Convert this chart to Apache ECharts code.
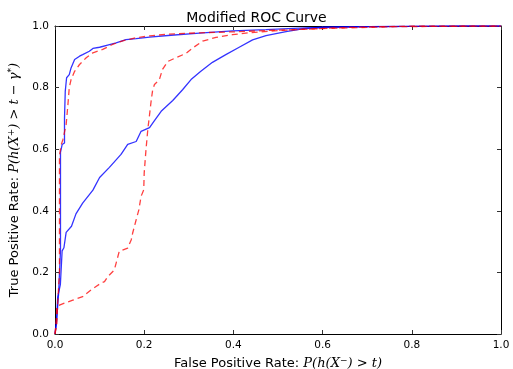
<!DOCTYPE html>
<html><head><meta charset="utf-8">
<script src="https://cdn.jsdelivr.net/npm/echarts@6/dist/echarts.min.js"></script>
<style>html,body{margin:0;padding:0;background:#fff}#c{width:513px;height:369px}</style>
</head><body><div id="c"></div>
<script>
const titleText = 'Modified ROC Curve';
const tickValues = [0, 0.2, 0.4, 0.6, 0.8, 1.0];

const blueAX = [0, 0.004, 0.008, 0.0123, 0.0123, 0.016, 0.0213, 0.0213, 0.023, 0.026, 0.032, 0.036, 0.044, 0.055, 0.062, 0.077, 0.085, 0.1, 0.118, 0.137, 0.159, 0.182, 0.212, 0.26, 0.324, 0.398, 0.473, 0.548, 0.62, 0.7, 0.8, 0.92, 1];
const blueAY = [0, 0.05, 0.13, 0.27, 0.59, 0.615, 0.62, 0.70, 0.788, 0.832, 0.842, 0.864, 0.891, 0.902, 0.907, 0.918, 0.927, 0.931, 0.938, 0.945, 0.956, 0.959, 0.964, 0.97, 0.977, 0.984, 0.988, 0.993, 0.996, 0.998, 0.999, 1, 1];

const redAX = [0, 0.004, 0.006, 0.01, 0.01, 0.014, 0.0175, 0.022, 0.025, 0.029, 0.032, 0.036, 0.044, 0.055, 0.07, 0.085, 0.107, 0.129, 0.152, 0.182, 0.212, 0.25, 0.324, 0.4, 0.47, 0.55, 0.65, 0.8, 1];
const redAY = [0, 0.03, 0.1, 0.2, 0.58, 0.615, 0.63, 0.66, 0.68, 0.745, 0.8, 0.826, 0.853, 0.875, 0.897, 0.913, 0.924, 0.94, 0.952, 0.962, 0.968, 0.973, 0.978, 0.981, 0.985, 0.989, 0.995, 1, 1];

const blueBX = [0, 0.003, 0.006, 0.012, 0.016, 0.02, 0.025, 0.037, 0.047, 0.062, 0.085, 0.1, 0.122, 0.148, 0.163, 0.182, 0.193, 0.212, 0.223, 0.238, 0.264, 0.286, 0.305, 0.327, 0.353, 0.383, 0.413, 0.443, 0.473, 0.518, 0.555, 0.6, 0.7, 0.8, 0.92, 1];
const blueBY = [0, 0.03, 0.12, 0.16, 0.27, 0.28, 0.33, 0.35, 0.39, 0.425, 0.467, 0.508, 0.541, 0.583, 0.616, 0.625, 0.658, 0.670, 0.693, 0.723, 0.758, 0.793, 0.826, 0.853, 0.882, 0.907, 0.931, 0.955, 0.969, 0.982, 0.991, 0.996, 0.998, 0.999, 1, 1];

const redBX = [0, 0.003, 0.004, 0.021, 0.04, 0.062, 0.081, 0.092, 0.103, 0.111, 0.118, 0.133, 0.144, 0.163, 0.171, 0.174, 0.182, 0.188, 0.193, 0.199, 0.2, 0.204, 0.208, 0.212, 0.215, 0.219, 0.223, 0.234, 0.241, 0.253, 0.271, 0.294, 0.309, 0.331, 0.361, 0.398, 0.436, 0.51, 0.585, 0.771, 1];
const redBY = [0, 0.05, 0.09, 0.1, 0.11, 0.121, 0.143, 0.154, 0.165, 0.17, 0.186, 0.208, 0.268, 0.279, 0.306, 0.327, 0.371, 0.403, 0.447, 0.468, 0.523, 0.598, 0.663, 0.712, 0.75, 0.793, 0.81, 0.826, 0.859, 0.885, 0.897, 0.911, 0.929, 0.951, 0.963, 0.972, 0.978, 0.986, 0.991, 0.998, 1];

function pairs(xs, ys) { return xs.map((x, i) => [x, ys[i]]); }

const FONT = '"DejaVu Sans", sans-serif';
const MATH = '"DejaVu Serif", serif';
const richLabel = {
  n: { fontFamily: FONT, fontSize: 13, color: '#000' },
  m: { fontFamily: MATH, fontStyle: 'italic', fontSize: 13, color: '#000' },
  s: { fontFamily: MATH, fontStyle: 'italic', fontSize: 9, color: '#000', verticalAlign: 'top', padding: [0, 0, 6, 0] }
};

function baseAxis(extra) {
  return Object.assign({
    type: 'value', min: 0, max: 1, interval: 0.2,
    splitLine: { show: false },
    axisLine: { show: true, onZero: false, lineStyle: { color: '#000', width: 1 } },
    axisTick: { show: true, inside: true, length: 4, lineStyle: { color: '#333' } },
    axisLabel: { show: true, fontFamily: FONT, fontSize: 10.5, color: '#000', formatter: v => v.toFixed(1) }
  }, extra);
}

const chart = echarts.init(document.getElementById('c'));
chart.setOption({
  animation: false,
  backgroundColor: '#fff',
  title: { text: titleText, left: 'center', top: 6, textStyle: { fontFamily: FONT, fontSize: 14, fontWeight: 'normal', color: '#000' } },
  grid: { left: 55, right: 12, top: 26, bottom: 35, show: false, containLabel: false, outerBoundsMode: 'none' },
  xAxis: [
    baseAxis({ position: 'bottom', axisLabel: { fontFamily: FONT, fontSize: 10.5, color: '#000', margin: 6, formatter: v => v.toFixed(1) },
      name: '{n|False Positive Rate: }{m|P(h(X}{s|−}{m|) > t)}', nameLocation: 'middle', nameGap: 19,
      nameTextStyle: { rich: richLabel } }),
    baseAxis({ position: 'top', axisLabel: { show: false } })
  ],
  yAxis: [
    baseAxis({ position: 'left', axisLabel: { fontFamily: FONT, fontSize: 10.5, color: '#000', margin: 6, formatter: v => v.toFixed(1) },
      name: '{n|True Positive Rate: }{m|P(h(X}{s|+}{m|) > t − γ}{s|*}{m|)}', nameLocation: 'middle', nameGap: 32, nameRotate: 90,
      nameTextStyle: { rich: richLabel } }),
    baseAxis({ position: 'right', axisLabel: { show: false } })
  ],
  series: [
    { type: 'line', data: pairs(blueAX, blueAY), showSymbol: false, lineStyle: { color: 'rgba(0,0,255,0.8)', width: 1.3 }, z: 3 },
    { type: 'line', data: pairs(redAX, redAY), showSymbol: false, lineStyle: { color: 'rgba(255,0,0,0.75)', width: 1.3, type: [6, 4] }, z: 4 },
    { type: 'line', data: pairs(blueBX, blueBY), showSymbol: false, lineStyle: { color: 'rgba(0,0,255,0.8)', width: 1.3 }, z: 3 },
    { type: 'line', data: pairs(redBX, redBY), showSymbol: false, lineStyle: { color: 'rgba(255,0,0,0.75)', width: 1.3, type: [6, 4] }, z: 4 }
  ]
});
</script></body></html>
